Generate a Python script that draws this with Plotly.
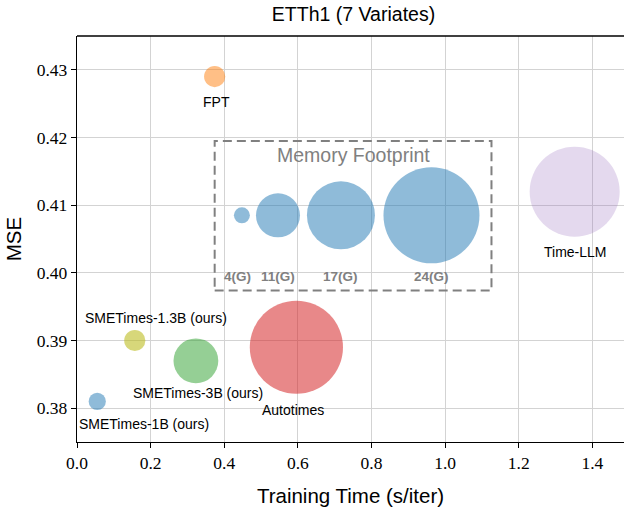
import plotly.graph_objects as go

# ---- data ----
models = ["SMETimes-1B (ours)", "SMETimes-1.3B (ours)", "SMETimes-3B (ours)",
          "Autotimes", "FPT", "Time-LLM"]
train_time = [0.055, 0.157, 0.323, 0.596, 0.374, 1.352]
mse = [0.381, 0.390, 0.387, 0.389, 0.429, 0.412]
memory = [4.3, 5.3, 11.2, 23.3, 5.3, 22.5]
colors = ["#1f77b4", "#bcbd22", "#2ca02c", "#d62728", "#ff7f0e", "#9467bd"]
opacities = [0.5, 0.6, 0.5, 0.55, 0.5, 0.25]

mem_labels = ["4(G)", "11(G)", "17(G)", "24(G)"]
mem_x = [0.448, 0.546, 0.717, 0.963]
mem_y = [0.4085, 0.4085, 0.4085, 0.4085]
mem_size = [4, 11, 17, 24]

x_ticks = [0.0, 0.2, 0.4, 0.6, 0.8, 1.0, 1.2, 1.4]
y_ticks = [0.38, 0.39, 0.40, 0.41, 0.42, 0.43]

SIZEREF = 0.25  # diameter px = memory / sizeref
SANS = "Liberation Sans, Arial, sans-serif"
SERIF = "Times New Roman, Liberation Serif, DejaVu Serif, serif"

fig = go.Figure()

for m, x, y, s, c, o in zip(models, train_time, mse, memory, colors, opacities):
    fig.add_trace(go.Scatter(
        x=[x], y=[y], mode="markers", name=m,
        marker=dict(size=[s], sizemode="diameter", sizeref=SIZEREF,
                    color=c, opacity=o, line=dict(width=0)),
        showlegend=False, hoverinfo="skip"))

fig.add_trace(go.Scatter(
    x=mem_x, y=mem_y, mode="markers", name="Memory Footprint",
    marker=dict(size=mem_size, sizemode="diameter", sizeref=SIZEREF,
                color="#1f77b4", opacity=0.5, line=dict(width=0)),
    showlegend=False, hoverinfo="skip"))

# model labels (offsets in pixels)
label_pos = {
    "SMETimes-1B (ours)": (47, -23),
    "SMETimes-1.3B (ours)": (21, 23),
    "SMETimes-3B (ours)": (2, -32),
    "Autotimes": (-3, -63),
    "FPT": (2, -25),
    "Time-LLM": (1, -60),
}
lab_font = dict(family=SANS, size=14, color="black")
for m, x, y in zip(models, train_time, mse):
    dx, dy = label_pos[m]
    fig.add_annotation(x=x, y=y, text=m, showarrow=False, xshift=dx, yshift=dy,
                       font=lab_font)

for t, x, y in zip(mem_labels, mem_x, mem_y):
    fig.add_annotation(x=x, y=0.4, text="<b>" + t + "</b>", showarrow=False,
                       yshift=-4, xshift=(-4 if t == "4(G)" else 0),
                       font=dict(family=SANS, size=13.5, color="#808080"))

fig.add_annotation(x=0.75, y=0.4174, text="Memory Footprint", showarrow=False,
                   font=dict(family=SANS, size=19.5, color="#808080"))

fig.add_shape(type="rect", x0=0.374, x1=1.126, y0=0.3974, y1=0.4195,
              line=dict(color="#808080", width=2, dash="9px,5px"),
              fillcolor="rgba(0,0,0,0)", layer="above")

axis_common = dict(
    showgrid=True, gridcolor="#d3d3d3", gridwidth=1,
    showline=True, linecolor="black", linewidth=1.3,
    ticks="outside", ticklen=5, tickwidth=1, tickcolor="black",
    tickfont=dict(family=SERIF, size=17.5, color="black"),
    zeroline=False, automargin=False,
)

fig.update_layout(
    width=624, height=509,
    margin=dict(l=77, r=0, t=36, b=67),
    paper_bgcolor="white", plot_bgcolor="white",
    title=dict(text="ETTh1 (7 Variates)", x=0.5055, xref="paper", y=1 - 14.5 / 509,
               yanchor="middle", xanchor="center",
               font=dict(family=SANS, size=19.5, color="black")),
    xaxis=dict(range=[0, 1.486], tickvals=x_ticks,
               ticktext=[f"{v:.1f}" for v in x_ticks], mirror=False,
               title=dict(text="Training Time (s/iter)", standoff=16,
                          font=dict(family=SANS, size=20.5, color="black")),
               **axis_common),
    yaxis=dict(range=[0.375, 0.435], tickvals=y_ticks,
               ticktext=[f"{v:.2f}" for v in y_ticks],
               title=dict(text="MSE", standoff=9,
                          font=dict(family=SANS, size=20.5, color="black")),
               **axis_common),
)
fig.add_shape(type="line", xref="paper", yref="paper", x0=0, x1=1, y0=1, y1=1,
              line=dict(color="black", width=1.3))

fig.write_html("out.html", config={"displayModeBar": False},
               post_script="document.body.style.margin='0';document.body.style.overflow='hidden';")
